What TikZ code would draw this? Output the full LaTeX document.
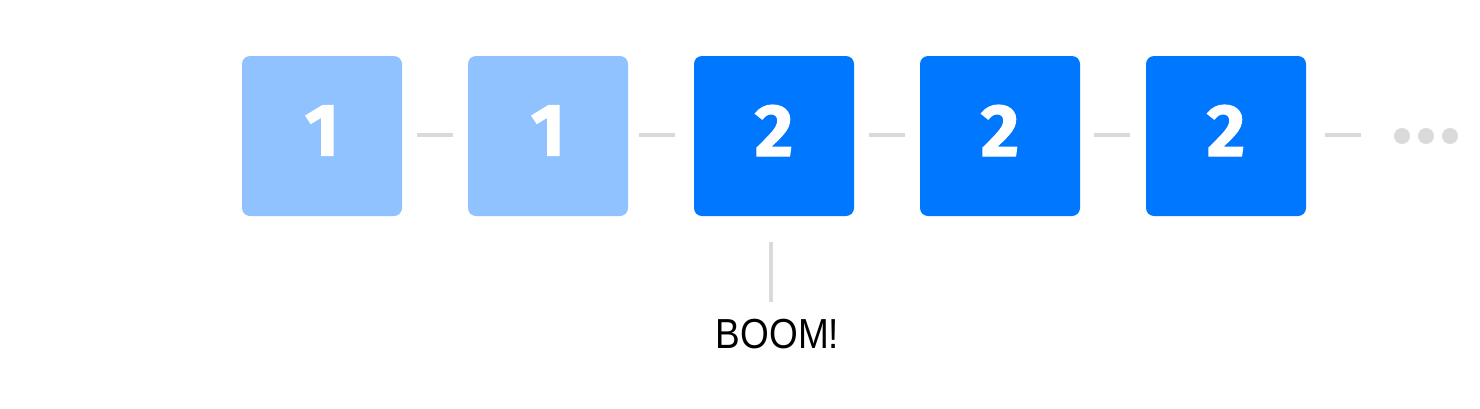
\documentclass[tikz,border=0pt]{standalone}
\usepackage{fontspec}
\setmainfont{Liberation Sans}
\newfontfamily\digitfont{Fira Sans}[BoldFeatures={FakeBold=1.5}]
\definecolor{lightblue}{HTML}{90C2FF}
\definecolor{darkblue}{HTML}{0077FF}
\definecolor{conngrey}{HTML}{DADADA}
\tikzset{
  cell/.style={draw=none, minimum width=160pt, minimum height=160pt, inner sep=0pt,
    rounded corners=8pt, text=white, text depth=11pt,
    font=\digitfont\bfseries\fontsize{74}{74}\selectfont},
  lightcell/.style={cell, fill=lightblue},
  darkcell/.style={cell, fill=darkblue},
  conn/.style={draw=conngrey, line width=4pt},
  dotmark/.style={fill=conngrey, draw=none}
}
\begin{document}
\begin{tikzpicture}[x=1pt,y=-1pt]
\useasboundingbox (0,0) rectangle (1480,408);
\node[lightcell] (b1) at (322,136) {1};
\node[lightcell] (b2) at (548,136) {1};
\node[darkcell]  (b3) at (774,136) {2};
\node[darkcell]  (b4) at (1000,136) {2};
\node[darkcell]  (b5) at (1226,136) {2};
\coordinate (more) at (1361,135);
\draw[conn] ([xshift=15pt,yshift=1pt]b1.east) -- ([xshift=-15pt,yshift=1pt]b2.west);
\draw[conn] ([xshift=11pt,yshift=1pt]b2.east) -- ([xshift=-19pt,yshift=1pt]b3.west);
\draw[conn] ([xshift=15pt,yshift=1pt]b3.east) -- ([xshift=-15pt,yshift=1pt]b4.west);
\draw[conn] ([xshift=14pt,yshift=1pt]b4.east) -- ([xshift=-16pt,yshift=1pt]b5.west);
\draw[conn] ([xshift=19pt,yshift=1pt]b5.east) -- (more);
\fill[dotmark] (1402,136) circle (8);
\fill[dotmark] (1426,136) circle (8);
\fill[dotmark] (1450,136) circle (8);
\node[anchor=base, inner sep=0pt, font=\fontsize{42}{42}\selectfont] (boom) at (777.5,348) {\scalebox{0.88}[1]{BOOM!}};
\draw[conn] ([xshift=-3pt,yshift=-26pt]b3.south) -- ([xshift=-6.5pt]boom.north |- 0,302);
\end{tikzpicture}
\end{document}
